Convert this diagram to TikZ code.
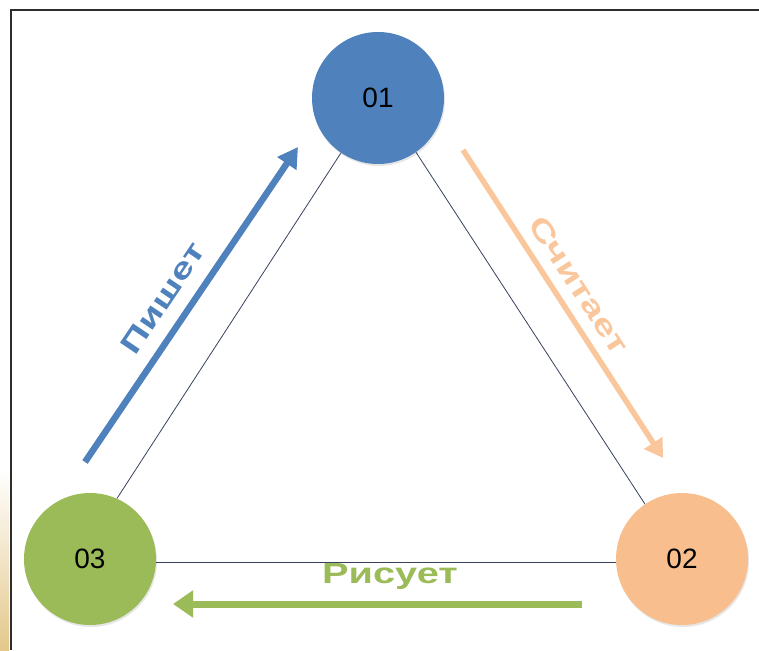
\documentclass[tikz,border=0pt]{standalone}
\usepackage{fontspec}
\setmainfont{Liberation Sans}
\usetikzlibrary{arrows.meta,shadows}
\definecolor{blue1}{RGB}{79,129,189}
\definecolor{orange1}{RGB}{249,190,142}
\definecolor{orange2}{RGB}{250,198,156}
\definecolor{green1}{RGB}{155,187,89}
\definecolor{edge1}{RGB}{55,65,95}
\definecolor{frame1}{RGB}{45,45,45}
\definecolor{beige1}{RGB}{228,200,140}
\begin{document}
\begin{tikzpicture}[x=1pt,y=-1pt]
\tikzstyle{circ}=[circle,minimum size=132pt,inner sep=0pt,
font=\fontsize{28}{30}\selectfont,
drop shadow={opacity=0.2,shadow xshift=1pt,shadow yshift=-2pt}]
\tikzstyle{word}=[font=\bfseries\fontsize{29}{30}\selectfont,xscale=1.37,inner sep=0pt]
\tikzstyle{side}=[draw=edge1,line width=0.8pt]

\useasboundingbox (0,0) rectangle (759,650);
\shade [top color=white,bottom color=beige1] (0,470) rectangle (9,650);
\draw [frame1,line width=2pt] (10.5,650) -- (10.5,10.5) -- (759,10.5);

\draw (378,98)  node (1) [circ,fill=blue1] {01};
\draw (682,559) node (2) [circ,fill=orange1] {02};
\draw (90,559)  node (3) [circ,fill=green1] {03};

\draw [side] (1.236) -- (3.66);
\draw [side] (1.305) -- (2.124);
\draw [side] (3.357) -- (2.183);

\coordinate (a1) at (85,462);
\coordinate (b1) at (298,147);
\coordinate (a2) at (463,150);
\coordinate (b2) at (663,458);
\coordinate (a3) at (582,604);
\coordinate (b3) at (173,604);
\draw [blue1,line width=6.5pt,-{Triangle[length=20pt,width=22pt]}] (a1) -- (b1);
\draw [orange2,line width=5.5pt,-{Triangle[length=18pt,width=21pt]}] (a2) -- (b2);
\draw [green1,line width=7pt,-{Triangle[length=20pt,width=26pt]}] (a3) -- (b3);

\draw (163,298) node (w1) [rotate=56,word,text=blue1] {Пишет};
\draw (579,285) node (w2) [rotate=-57,word,text=orange2] {Считает};
\draw (390,583) node (w3) [word,text=green1,anchor=base] {Рисует};
\end{tikzpicture}
\end{document}
